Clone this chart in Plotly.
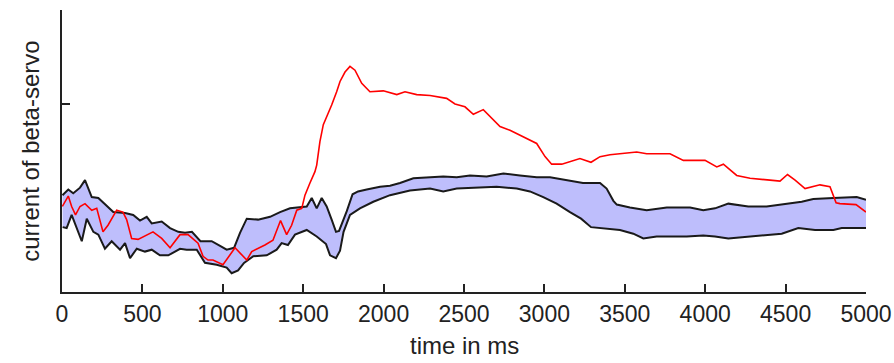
import plotly.graph_objects as go

# red trace (time ms, current a.u.)
red_t = [2, 39, 60, 84, 112, 143, 185, 216, 255, 286, 340, 379, 402, 433, 473, 527, 566, 620, 672, 734,
         784, 846, 877, 908, 939, 1001, 1076, 1149, 1180, 1262, 1312, 1359, 1397, 1428, 1460, 1491, 1511,
         1542, 1573, 1584, 1604, 1625, 1646, 1677, 1708, 1729, 1760, 1791, 1822, 1864, 1915, 1998, 2082,
         2133, 2206, 2289, 2392, 2444, 2506, 2558, 2620, 2724, 2786, 2848, 2910, 2952, 3004, 3045, 3108,
         3159, 3221, 3290, 3346, 3408, 3574, 3636, 3781, 3864, 3999, 4072, 4113, 4196, 4279, 4403, 4465,
         4512, 4559, 4621, 4714, 4776, 4814, 4838, 4938, 5000]
red_y = [0.91, 1.02, 0.91, 0.82, 0.91, 0.94, 0.87, 0.89, 0.64, 0.71, 0.87, 0.85, 0.77, 0.57, 0.56, 0.61,
         0.64, 0.57, 0.47, 0.61, 0.61, 0.52, 0.38, 0.34, 0.34, 0.29, 0.47, 0.34, 0.43, 0.50, 0.55, 0.76,
         0.61, 0.71, 0.87, 0.89, 1.03, 1.16, 1.28, 1.35, 1.60, 1.78, 1.86, 1.99, 2.13, 2.24, 2.34, 2.40,
         2.36, 2.22, 2.13, 2.14, 2.10, 2.13, 2.10, 2.09, 2.06, 2.00, 1.97, 1.89, 1.94, 1.76, 1.72, 1.67,
         1.62, 1.58, 1.44, 1.36, 1.36, 1.39, 1.42, 1.38, 1.44, 1.46, 1.49, 1.47, 1.47, 1.40, 1.40, 1.33,
         1.36, 1.24, 1.21, 1.19, 1.18, 1.25, 1.19, 1.10, 1.14, 1.12, 0.95, 0.94, 0.93, 0.85]

# upper envelope of the trial band
up_t = [3, 39, 70, 112, 143, 168, 185, 226, 267, 319, 392, 443, 485, 527, 558, 620, 672, 723, 765, 808,
        861, 931, 983, 1024, 1070, 1107, 1149, 1219, 1294, 1356, 1418, 1522, 1553, 1584, 1615, 1646, 1677,
        1704, 1723, 1771, 1807, 1841, 1895, 1978, 2040, 2102, 2185, 2289, 2371, 2455, 2537, 2641, 2745,
        2848, 2952, 3035, 3139, 3240, 3346, 3387, 3429, 3450, 3532, 3636, 3761, 3906, 3988, 4061, 4144,
        4268, 4382, 4507, 4600, 4672, 4745, 4797, 4942, 5000]
up_y = [1.03, 1.09, 1.05, 1.11, 1.19, 1.09, 1.01, 1.00, 0.93, 0.85, 0.84, 0.82, 0.76, 0.80, 0.73, 0.75,
        0.68, 0.64, 0.63, 0.64, 0.54, 0.54, 0.49, 0.45, 0.47, 0.63, 0.78, 0.77, 0.80, 0.85, 0.89, 0.91,
        1.00, 0.89, 1.00, 0.91, 0.77, 0.64, 0.65, 0.86, 1.04, 1.07, 1.09, 1.12, 1.13, 1.16, 1.21, 1.22,
        1.23, 1.22, 1.24, 1.23, 1.26, 1.24, 1.22, 1.22, 1.19, 1.16, 1.16, 1.10, 0.97, 0.93, 0.90, 0.87,
        0.90, 0.90, 0.87, 0.89, 0.94, 0.91, 0.91, 0.94, 0.96, 0.99, 1.00, 1.00, 1.01, 0.98]

# lower envelope of the trial band
lo_t = [4, 29, 60, 91, 123, 154, 195, 226, 267, 309, 361, 392, 423, 465, 516, 558, 609, 661, 734, 775,
        838, 889, 962, 1024, 1055, 1095, 1132, 1190, 1273, 1335, 1366, 1405, 1449, 1522, 1584, 1642, 1667,
        1704, 1729, 1751, 1791, 1853, 1936, 2040, 2164, 2289, 2371, 2455, 2579, 2703, 2828, 2910, 2993,
        3076, 3159, 3228, 3290, 3366, 3470, 3553, 3615, 3698, 3781, 3885, 3988, 4061, 4144, 4268, 4393,
        4476, 4579, 4683, 4797, 4849, 5000]
lo_y = [0.69, 0.68, 0.82, 0.69, 0.54, 0.78, 0.64, 0.61, 0.46, 0.54, 0.45, 0.52, 0.36, 0.46, 0.43, 0.45,
        0.39, 0.39, 0.46, 0.45, 0.45, 0.31, 0.29, 0.26, 0.20, 0.23, 0.31, 0.38, 0.39, 0.45, 0.52, 0.50,
        0.61, 0.66, 0.59, 0.51, 0.39, 0.36, 0.44, 0.64, 0.82, 0.89, 0.96, 1.03, 1.08, 1.10, 1.07, 1.10,
        1.11, 1.12, 1.10, 1.07, 1.01, 0.94, 0.85, 0.78, 0.69, 0.68, 0.66, 0.62, 0.57, 0.59, 0.59, 0.59,
        0.60, 0.59, 0.57, 0.59, 0.61, 0.62, 0.68, 0.66, 0.66, 0.68, 0.68]

x_ticks = [0, 500, 1000, 1500, 2000, 2500, 3000, 3500, 4000, 4500, 5000]

FONT = "Liberation Sans, Arial, sans-serif"
INK = "#222222"

fig = go.Figure()
fig.add_trace(go.Scatter(x=lo_t, y=lo_y, mode="lines", line=dict(color="rgba(0,0,0,0)", width=0),
                         hoverinfo="skip", showlegend=False))
fig.add_trace(go.Scatter(x=up_t, y=up_y, mode="lines", line=dict(color="rgba(0,0,0,0)", width=0),
                         fill="tonexty", fillcolor="rgb(190,190,252)", hoverinfo="skip", showlegend=False))
fig.add_trace(go.Scatter(x=up_t, y=up_y, mode="lines", line=dict(color="#1a1a1a", width=2),
                         showlegend=False))
fig.add_trace(go.Scatter(x=lo_t, y=lo_y, mode="lines", line=dict(color="#1a1a1a", width=2),
                         showlegend=False))
fig.add_trace(go.Scatter(x=red_t, y=red_y, mode="lines", line=dict(color="#ff0000", width=1.6),
                         showlegend=False))

fig.update_layout(
    width=894, height=363,
    margin=dict(l=62, r=28, t=10, b=71, autoexpand=False),
    paper_bgcolor="white", plot_bgcolor="white",
    font=dict(family=FONT, color=INK, size=23),
    xaxis=dict(range=[0, 5000], tickvals=x_ticks, ticktext=[str(v) for v in x_ticks],
               ticks="inside", ticklen=8, tickwidth=1.5, tickcolor=INK, automargin=False,
               showline=True, linecolor=INK, linewidth=2, showgrid=False, zeroline=False,
               tickfont=dict(size=23, family=FONT, color=INK)),
    yaxis=dict(range=[0, 3], tickvals=[2], ticktext=[""], ticks="inside", ticklen=8, automargin=False,
               tickwidth=1.5, tickcolor=INK, showline=True, linecolor=INK, linewidth=2,
               showgrid=False, zeroline=False, showticklabels=False),
    annotations=[
        dict(text="time in ms", xref="paper", yref="paper", x=0.5, y=-0.135, xanchor="center",
             yanchor="top", showarrow=False, font=dict(size=24, family=FONT, color=INK)),
        dict(text="current of beta-servo", xref="paper", yref="paper", x=-0.040, y=0.5,
             xanchor="center", yanchor="middle", textangle=-90, showarrow=False,
             font=dict(size=24, family=FONT, color=INK)),
    ],
)

fig.write_html("out.html", config={"displayModeBar": False},
               post_script="document.body.style.margin='0px';document.body.style.padding='0px';")
